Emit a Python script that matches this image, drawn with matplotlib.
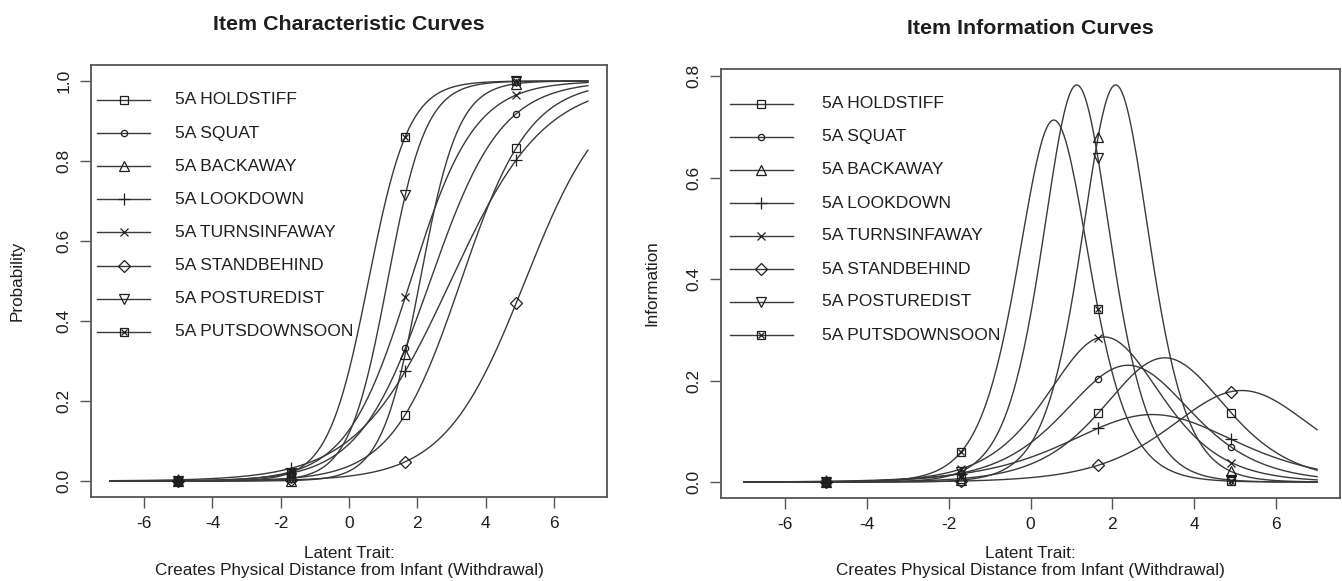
import numpy as np
import matplotlib
matplotlib.use("Agg")
import matplotlib.pyplot as plt

plt.rcParams['font.family'] = ['Liberation Sans', 'DejaVu Sans']
plt.rcParams['axes.unicode_minus'] = False

# 2PL item parameters
items = ['5A HOLDSTIFF', '5A SQUAT', '5A BACKAWAY', '5A LOOKDOWN',
         '5A TURNSINFAWAY', '5A STANDBEHIND', '5A POSTUREDIST', '5A PUTSDOWNSOON']
discrimination = [0.99, 0.96, 1.77, 0.73, 1.07, 0.85, 1.77, 1.69]
difficulty = [3.28, 2.38, 2.08, 2.98, 1.80, 5.16, 1.13, 0.57]
theta_range = [-7, 7]
marker_theta = [-5.0, -1.7, 1.65, 4.9]

# R pch 0..7
markers = ['s', 'o', '^', '+', 'x', 'D', 'v', 's']
msizes = [5.5, 4.5, 6.5, 8, 6, 6, 6.5, 5.5]

LINE = '#3a3a3a'
TEXT = '#1e1e1e'
W, H = 1342, 581


def icc(theta, a, b):
    return 1.0 / (1.0 + np.exp(-a * (theta - b)))


def info(theta, a, b):
    p = icc(theta, a, b)
    return a * a * p * (1 - p)


def put_marker(ax, x, y, i, transform=None):
    kw = dict(color=TEXT, markerfacecolor='none', linestyle='none',
              markersize=msizes[i], markeredgewidth=0.9, clip_on=False, zorder=4)
    if transform is not None:
        kw['transform'] = transform
    ax.plot(x, y, marker=markers[i], **kw)
    if i == 7:
        kw['markersize'] = msizes[i] - 1
        ax.plot(x, y, marker='x', **kw)


def draw_legend(ax, box, x0, x1, xt, y0, dy):
    left, top, width, height = box
    tr = ax.transAxes
    for i, name in enumerate(items):
        y = 1 - (y0 + i * dy - top) / height
        ax.plot([(x0 - left) / width, (x1 - left) / width], [y, y], color=LINE,
                lw=1.0, transform=tr, clip_on=False)
        put_marker(ax, ((x0 + x1) / 2 - left) / width, y, i, transform=tr)
        ax.text((xt - left) / width, y, name, transform=tr, ha='left', va='center',
                fontsize=12.6, color=TEXT)


def style_axes(ax, yticks):
    for s in ax.spines.values():
        s.set_color('#555555')
        s.set_linewidth(1.3)
    ax.set_xticks([-6, -4, -2, 0, 2, 4, 6])
    ax.set_yticks(yticks)
    ax.set_yticklabels([f'{v:.1f}' for v in yticks])
    ax.tick_params(axis='both', length=8, width=1.0, color='#555555',
                   labelsize=12.5, labelcolor=TEXT)
    ax.tick_params(axis='x', pad=6)
    ax.tick_params(axis='y', pad=6, labelrotation=90)
    for lab in ax.get_yticklabels():
        lab.set_va('center')
    ax.margins(x=0.04, y=0.04)


def main():
    fig = plt.figure(figsize=(W / 100, H / 100), dpi=100)
    box_l = (91, 65, 516, 432)
    box_r = (721, 69, 619, 429)
    ax1 = fig.add_axes([box_l[0] / W, 1 - (box_l[1] + box_l[3]) / H, box_l[2] / W, box_l[3] / H])
    ax2 = fig.add_axes([box_r[0] / W, 1 - (box_r[1] + box_r[3]) / H, box_r[2] / W, box_r[3] / H])

    theta = np.linspace(theta_range[0], theta_range[1], 300)
    mt = np.array(marker_theta)
    for i in range(len(items)):
        a, b = discrimination[i], difficulty[i]
        ax1.plot(theta, icc(theta, a, b), color=LINE, lw=1.0)
        put_marker(ax1, mt, icc(mt, a, b), i)
        ax2.plot(theta, info(theta, a, b), color=LINE, lw=1.0)
        put_marker(ax2, mt, info(mt, a, b), i)

    style_axes(ax1, [0.0, 0.2, 0.4, 0.6, 0.8, 1.0])
    style_axes(ax2, [0.0, 0.2, 0.4, 0.6, 0.8])

    draw_legend(ax1, box_l, 97, 150, 175, 100, 33.1)
    draw_legend(ax2, box_r, 730, 793, 822, 104, 33.0)

    fig.text(349 / W, 1 - 24 / H, 'Item Characteristic Curves', ha='center', va='center',
             fontsize=15.4, fontweight='bold', color=TEXT)
    fig.text(1030 / W, 1 - 28 / H, 'Item Information Curves', ha='center', va='center',
             fontsize=15.4, fontweight='bold', color=TEXT)

    xlab = 'Latent Trait:\nCreates Physical Distance from Infant (Withdrawal)'
    fig.text(349 / W, 1 - 562 / H, xlab, ha='center', va='center', fontsize=12.3,
             color=TEXT, linespacing=1.15)
    fig.text(1030 / W, 1 - 562 / H, xlab, ha='center', va='center', fontsize=12.3,
             color=TEXT, linespacing=1.15)
    fig.text(17 / W, 1 - 281 / H, 'Probability', rotation=90, ha='center', va='center',
             fontsize=12.3, color=TEXT)
    fig.text(652 / W, 1 - 283 / H, 'Information', rotation=90, ha='center', va='center',
             fontsize=12.3, color=TEXT)

    fig.savefig('out.png', dpi=100)


if __name__ == '__main__':
    main()
